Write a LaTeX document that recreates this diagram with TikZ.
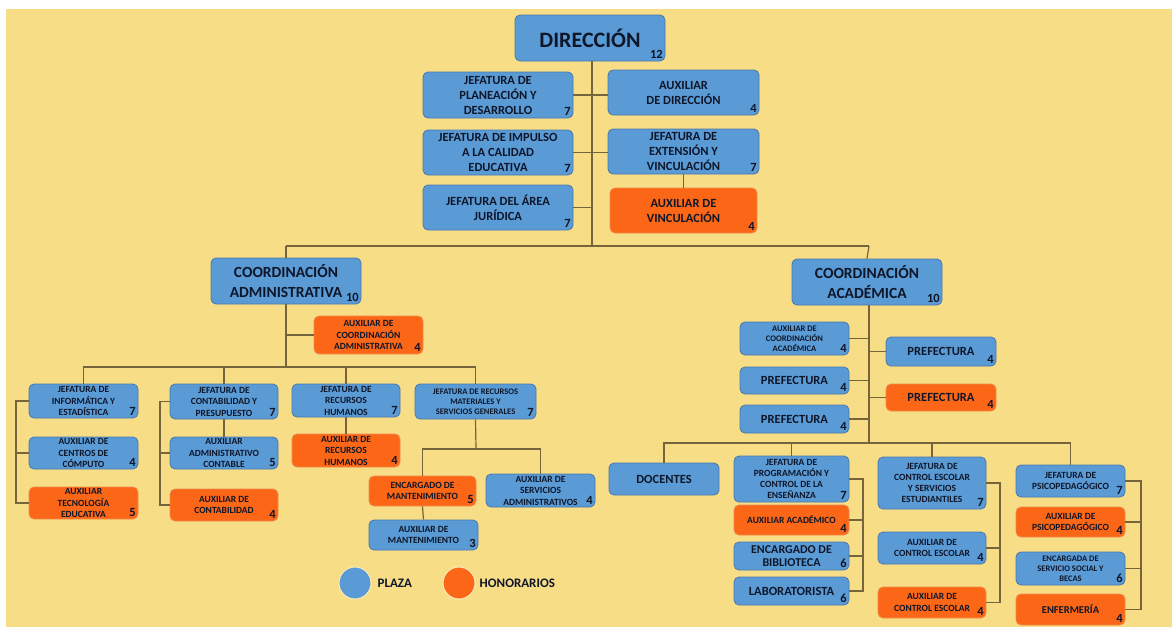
\documentclass[tikz,border=0pt]{standalone}
\usepackage{fontspec}
\setmainfont{Carlito}

\definecolor{fondo}{HTML}{F8DD87}
\definecolor{azul}{HTML}{5B9BD5}
\definecolor{azulb}{HTML}{4677AD}
\definecolor{naranja}{HTML}{FC6717}
\definecolor{naranjab}{HTML}{F08A4B}
\definecolor{texto}{HTML}{0E1629}
\definecolor{linea}{HTML}{76643A}

\tikzset{
  caja/.style={rounded corners=5pt, align=center, inner sep=1pt, text=texto},
  plaza/.style={caja, fill=azul, draw=azulb, line width=0.8pt},
  honor/.style={caja, fill=naranja, draw=naranjab, line width=0.8pt},
  tam/.style 2 args={minimum width=#1, minimum height=#2},
  num/.style={anchor=south east, inner sep=2.5pt, text=texto, font=\bfseries\fontsize{12.5}{12.5}\selectfont},
  conector/.style={draw=linea, line width=1.2pt},
  grande/.style={font=\bfseries\fontsize{22}{24}\selectfont},
  coord/.style={font=\bfseries\fontsize{15.5}{20}\selectfont},
  media/.style={font=\bfseries\fontsize{12.5}{15}\selectfont},
  chica/.style={font=\bfseries\fontsize{9.5}{11.5}\selectfont},
  mini/.style={font=\bfseries\fontsize{8.5}{10}\selectfont},
}

\begin{document}
\begin{tikzpicture}[x=1pt, y=-1pt]
  \fill[white] (0,0) rectangle (1172,627);
  \fill[fondo] (6,9) rectangle (1172,627);

  % direccion y jefaturas de apoyo
  \node[plaza, grande, tam={150}{46}, label={[num]south east:12}] (dir) at (590,38) {DIRECCIÓN};
  \node[plaza, media, tam={150}{46}, label={[num]south east:7}] (plan) at (498,95) {JEFATURA DE\\PLANEACIÓN Y\\DESARROLLO};
  \node[plaza, media, tam={150}{45}, label={[num]south east:7}] (impulso) at (498,152.5) {JEFATURA DE IMPULSO\\A LA CALIDAD\\EDUCATIVA};
  \node[plaza, media, tam={150}{45}, label={[num]south east:7}] (juridica) at (498,207.5) {JEFATURA DEL ÁREA\\JURÍDICA};
  \node[plaza, media, tam={151}{45}, label={[num]south east:4}] (auxdir) at (683.5,92.5) {AUXILIAR\\DE DIRECCIÓN};
  \node[plaza, media, tam={151}{45}, label={[num]south east:7}] (extension) at (683.5,151.5) {JEFATURA DE\\EXTENSIÓN Y\\VINCULACIÓN};
  \node[honor, media, tam={147}{45}, label={[num]south east:4}] (auxvin) at (683.5,210.5) {AUXILIAR DE\\VINCULACIÓN};

  \coordinate (busL) at (286,246);
  \coordinate (busR) at (869,246);
  \coordinate (tronco) at (592,246);
  \draw[conector] (dir.south -| tronco) -- (tronco);
  \draw[conector] (plan.east) -- (plan.east -| auxdir.west);
  \draw[conector] (impulso.east) -- (impulso.east -| extension.west);
  \draw[conector] (juridica.east) -- (juridica.east -| tronco);
  \draw[conector] (extension.south) -- (auxvin.north);
  \draw[conector] (busL) -- (busR);

  % coordinacion administrativa
  \node[plaza, coord, tam={150}{46}, label={[num]south east:10}] (cadm) at (286,281) {COORDINACIÓN\\ADMINISTRATIVA};
  \node[honor, chica, tam={109}{38}, label={[num]south east:4}] (auxcadm) at (368.5,335) {AUXILIAR DE\\COORDINACIÓN\\ADMINISTRATIVA};
  \node[plaza, chica, tam={109}{34}, label={[num]south east:7}] (informatica) at (83.5,401) {JEFATURA DE\\INFORMÁTICA Y\\ESTADÍSTICA};
  \node[plaza, chica, tam={109}{32}, label={[num]south east:4}] (computo) at (83.5,453) {AUXILIAR DE\\CENTROS DE\\CÓMPUTO};
  \node[honor, chica, tam={109}{32}, label={[num]south east:5}] (tecnologia) at (83.5,503) {AUXILIAR\\TECNOLOGÍA\\EDUCATIVA};
  \node[plaza, chica, tam={108}{35}, label={[num]south east:7}] (contab) at (224,401.5) {JEFATURA DE\\CONTABILIDAD Y\\PRESUPUESTO};
  \node[plaza, chica, tam={108}{32}, label={[num]south east:5}] (auxadmcont) at (224,453) {AUXILIAR\\ADMINISTRATIVO\\CONTABLE};
  \node[honor, chica, tam={108}{32}, label={[num]south east:4}] (auxcontab) at (224,505) {AUXILIAR DE\\CONTABILIDAD};
  \node[plaza, chica, tam={108}{33}, label={[num]south east:7}] (rrhh) at (346,400.5) {JEFATURA DE\\RECURSOS\\HUMANOS};
  \node[honor, chica, tam={108}{33}, label={[num]south east:4}] (auxrrhh) at (346,450.5) {AUXILIAR DE\\RECURSOS\\HUMANOS};
  \node[plaza, mini, tam={121}{35}, label={[num]south east:7}] (rmat) at (475.5,401.5) {JEFATURA DE RECURSOS\\MATERIALES Y\\SERVICIOS GENERALES};
  \node[honor, chica, tam={107}{30}, label={[num]south east:5}] (encmant) at (422.5,491) {ENCARGADO DE\\MANTENIMIENTO};
  \node[plaza, chica, tam={109}{33}, label={[num]south east:4}] (auxserv) at (540.5,490.5) {AUXILIAR DE\\SERVICIOS\\ADMINISTRATIVOS};
  \node[plaza, chica, tam={109}{30}, label={[num]south east:3}] (auxmant) at (423.5,535) {AUXILIAR DE\\MANTENIMIENTO};

  \coordinate (abus) at (286,367);
  \coordinate (brk1) at (16,0);
  \coordinate (brk2) at (160,0);
  \coordinate (rmbus) at (476,449);
  \draw[conector] (busL) -- (cadm.north);
  \draw[conector] (cadm.south) -- (abus);
  \draw[conector] (auxcadm.west) -- (auxcadm.west -| abus);
  \draw[conector] (informatica.north) |- (abus) -| (rmat.north);
  \draw[conector] (contab.north) -- (contab.north |- abus);
  \draw[conector] (rrhh.north) -- (rrhh.north |- abus);
  \draw[conector] (informatica.west) -- (informatica.west -| brk1) |- (tecnologia.west);
  \draw[conector] (computo.west) -- (computo.west -| brk1);
  \draw[conector] (contab.west) -- (contab.west -| brk2) |- (auxcontab.west);
  \draw[conector] (auxadmcont.west) -- (auxadmcont.west -| brk2);
  \draw[conector] (contab.south) -- (auxadmcont.north);
  \draw[conector] (rrhh.south) -- (auxrrhh.north);
  \draw[conector] (rmat.south) -- (rmbus);
  \draw[conector] (encmant.north) |- (rmbus) -| (auxserv.north);
  \draw[conector] (encmant.south) -- (auxmant.north);

  % coordinacion academica
  \node[plaza, coord, tam={150}{46}, label={[num]south east:10}] (cacad) at (867,282) {COORDINACIÓN\\ACADÉMICA};
  \node[plaza, mini, tam={109}{33}, label={[num]south east:4}] (auxcacad) at (794.5,338.5) {AUXILIAR DE\\COORDINACIÓN\\ACADÉMICA};
  \node[plaza, media, tam={109}{27}, label={[num]south east:4}] (pref1) at (794.5,380.5) {PREFECTURA};
  \node[plaza, media, tam={109}{28}, label={[num]south east:4}] (pref2) at (794.5,419) {PREFECTURA};
  \node[plaza, media, tam={110}{29}, label={[num]south east:4}] (pref3) at (941,351.5) {PREFECTURA};
  \node[honor, media, tam={110}{27}, label={[num]south east:4}] (pref4) at (941,397.5) {PREFECTURA};

  \node[plaza, media, tam={110}{32}] (docentes) at (664,479) {DOCENTES};
  \node[plaza, font=\bfseries\fontsize{9.5}{11}\selectfont, tam={115}{46}, label={[num]south east:7}] (programa) at (791.5,479) {JEFATURA DE\\PROGRAMACIÓN Y\\CONTROL DE LA\\ENSEÑANZA};
  \node[honor, chica, tam={115}{30}, label={[num]south east:4}] (auxacad) at (791.5,520) {AUXILIAR ACADÉMICO};
  \node[plaza, font=\bfseries\fontsize{12}{13}\selectfont, tam={115}{28}, label={[num]south east:6}] (biblio) at (791.5,556) {ENCARGADO DE\\BIBLIOTECA};
  \node[plaza, media, tam={115}{28}, label={[num]south east:6}] (labor) at (791.5,591) {LABORATORISTA};
  \node[plaza, font=\bfseries\fontsize{9.5}{11}\selectfont, tam={108}{52}, label={[num]south east:7}] (cescolar) at (932,483) {JEFATURA DE\\CONTROL ESCOLAR\\Y SERVICIOS\\ESTUDIANTILES};
  \node[plaza, chica, tam={108}{32}, label={[num]south east:4}] (auxce1) at (932,548) {AUXILIAR DE\\CONTROL ESCOLAR};
  \node[honor, chica, tam={108}{31}, label={[num]south east:4}] (auxce2) at (932,602.5) {AUXILIAR DE\\CONTROL ESCOLAR};
  \node[plaza, chica, tam={109}{32}, label={[num]south east:7}] (psico) at (1070.5,481) {JEFATURA DE\\PSICOPEDAGÓGICO};
  \node[honor, chica, tam={109}{30}, label={[num]south east:4}] (auxpsico) at (1070.5,522) {AUXILIAR DE\\PSICOPEDAGÓGICO};
  \node[plaza, mini, tam={109}{33}, label={[num]south east:6}] (becas) at (1070.5,568.5) {ENCARGADA DE\\SERVICIO SOCIAL Y\\BECAS};
  \node[honor, font=\bfseries\fontsize{10.5}{12}\selectfont, tam={109}{31}, label={[num]south east:4}] (enfermeria) at (1070.5,609.5) {ENFERMERÍA};

  \coordinate (rbus) at (869,443);
  \coordinate (brk3) at (863,0);
  \coordinate (brk4) at (1000,0);
  \coordinate (brk5) at (1141,0);
  \draw[conector] (busR) -- (cacad.north);
  \draw[conector] (cacad.south -| rbus) -- (rbus);
  \foreach \n in {auxcacad, pref1, pref2}
    \draw[conector] (\n.east) -- (\n.east -| rbus);
  \foreach \n in {pref3, pref4}
    \draw[conector] (\n.west) -- (\n.west -| rbus);
  \draw[conector] (docentes.north) |- (rbus) -| (psico.north);
  \draw[conector] (programa.north) -- (programa.north |- rbus);
  \draw[conector] (cescolar.north) -- (cescolar.north |- rbus);
  \draw[conector] (programa.east) -- (programa.east -| brk3) |- (labor.east);
  \foreach \n in {auxacad, biblio}
    \draw[conector] (\n.east) -- (\n.east -| brk3);
  \draw[conector] (cescolar.east) -- (cescolar.east -| brk4) |- (auxce2.east);
  \draw[conector] (auxce1.east) -- (auxce1.east -| brk4);
  \draw[conector] (psico.east) -- (psico.east -| brk5) |- (enfermeria.east);
  \foreach \n in {auxpsico, becas}
    \draw[conector] (\n.east) -- (\n.east -| brk5);

  % leyenda
  \node[circle, fill=azul, draw=fondo!60!white, line width=1pt, minimum size=32] (legplaza) at (355,583) {};
  \node[anchor=west, inner sep=0pt, text=texto, font=\bfseries\fontsize{13}{13}\selectfont] (txtplaza) at ([xshift=6]legplaza.east) {PLAZA};
  \node[circle, fill=naranja, draw=fondo!60!white, line width=1pt, minimum size=32] (leghonor) at (459,583) {};
  \node[anchor=west, inner sep=0pt, text=texto, font=\bfseries\fontsize{13}{13}\selectfont] (txthonor) at ([xshift=4]leghonor.east) {HONORARIOS};
\end{tikzpicture}
\end{document}
